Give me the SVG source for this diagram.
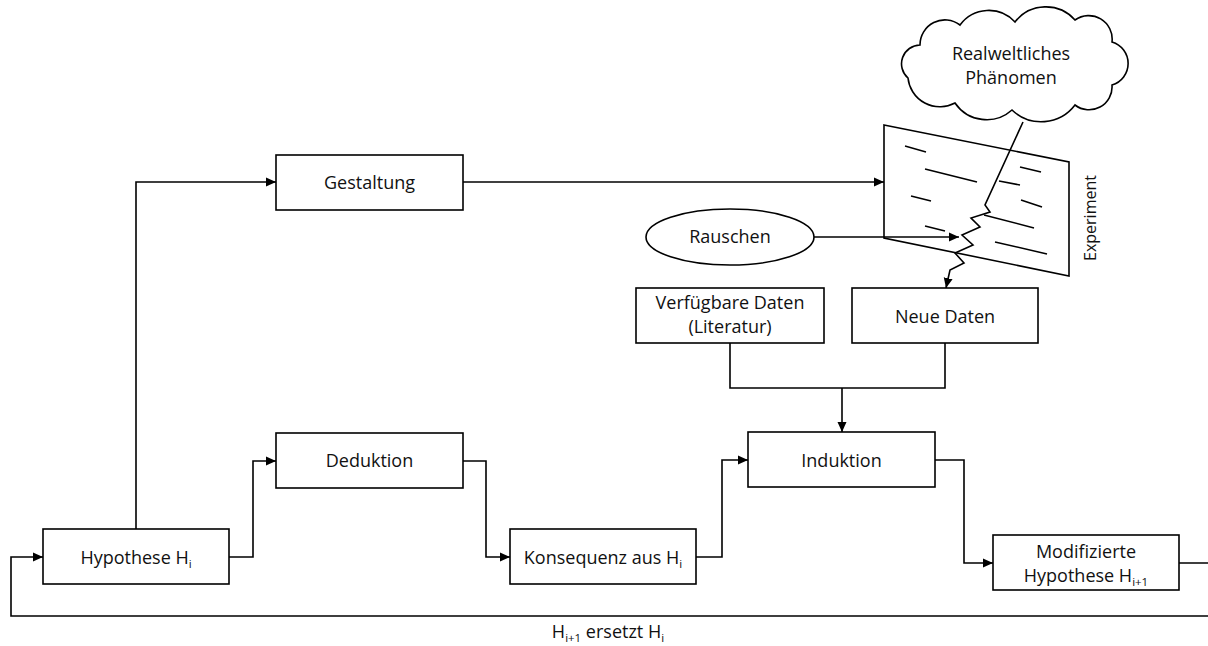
<svg xmlns="http://www.w3.org/2000/svg" width="1208" height="646" viewBox="0 0 1208 646">
<style>
.box{fill:#fff;stroke:#000;stroke-width:1.6}
.ln{fill:none;stroke:#000;stroke-width:1.6}
.t{font-family:"Open Sans","Liberation Sans",sans-serif;font-size:18px;fill:#111;text-anchor:middle}
.s{font-size:11.5px}
.dash{stroke:#000;stroke-width:1.5}
</style>
<defs>
<marker id="ar" viewBox="0 0 10 10" refX="10" refY="5" markerWidth="10" markerHeight="10" markerUnits="userSpaceOnUse" orient="auto">
<path d="M0 0.5 L10 5 L0 9.5 Z" fill="#000"/>
</marker>
</defs>
<rect width="1208" height="646" fill="#fff"/>
<g id="connectors">
<path class="ln" d="M136 529 V182 H276" marker-end="url(#ar)"/>
<path class="ln" d="M229 557 H253 V461 H276" marker-end="url(#ar)"/>
<path class="ln" d="M463 461 H486 V557 H510" marker-end="url(#ar)"/>
<path class="ln" d="M696 557 H722 V460 H748" marker-end="url(#ar)"/>
<path class="ln" d="M935 460 H964 V563 H993" marker-end="url(#ar)"/>
<path class="ln" d="M1179 563 H1220 V616 H11 V557 H43" marker-end="url(#ar)"/>
<path class="ln" d="M463 182 H884" marker-end="url(#ar)"/>
<path class="ln" d="M814 237 H959" marker-end="url(#ar)"/>
<path class="ln" d="M730 343 V388 H945 V343"/>
<path class="ln" d="M842 388 V432" marker-end="url(#ar)"/>
<path class="ln" d="M1023 122 L985 205 L990 212 L971 218 L980 227 L962 235 L973 245 L955 253 L964 263 L950 270 L946 288" marker-end="url(#ar)"/>
</g>
<g id="cloud">
<path class="box" d="M908 78 A18.8 18.8 0 0 1 920 45 A24.9 24.9 0 0 1 960 25 A35.6 35.6 0 0 1 1015 22 A39 39 0 0 1 1075 20 A23.5 23.5 0 0 1 1112 42 A22.4 22.4 0 0 1 1112 85 A23 23 0 0 1 1075 105 A42.4 42.4 0 0 1 1012 110 A38.2 38.2 0 0 1 955 103 A32 32 0 0 1 908 78 Z"/>
<text class="t" x="1011" y="60">Realweltliches</text>
<text class="t" x="1011" y="84">Phänomen</text>
</g>
<g id="experiment">
<polygon class="box" points="884,125 1069,162 1069,276 884,238" style="fill:none"/>
<line class="dash" x1="905" y1="146" x2="926" y2="152"/>
<line class="dash" x1="925" y1="169" x2="977" y2="182"/>
<line class="dash" x1="1020" y1="167" x2="1041" y2="172"/>
<line class="dash" x1="999" y1="181" x2="1020" y2="185"/>
<line class="dash" x1="911" y1="196" x2="931" y2="201"/>
<line class="dash" x1="1021" y1="200" x2="1042" y2="207"/>
<line class="dash" x1="984" y1="215" x2="1034" y2="228"/>
<line class="dash" x1="925" y1="226" x2="945" y2="231"/>
<line class="dash" x1="995" y1="242" x2="1047" y2="254"/>
<text class="t" style="font-size:16px" transform="translate(1096 218) rotate(-90)">Experiment</text>
</g>
<g id="gestaltung">
<rect class="box" x="276" y="155" width="187" height="55"/>
<text class="t" x="369.5" y="189">Gestaltung</text>
</g>
<g id="rauschen">
<ellipse class="box" cx="730" cy="237" rx="84" ry="28"/>
<text class="t" x="730" y="243">Rauschen</text>
</g>
<g id="verfuegbare">
<rect class="box" x="636" y="288" width="188" height="55"/>
<text class="t" x="730" y="309">Verfügbare Daten</text>
<text class="t" x="730" y="333">(Literatur)</text>
</g>
<g id="neue">
<rect class="box" x="852" y="288" width="186" height="55"/>
<text class="t" x="945" y="323">Neue Daten</text>
</g>
<g id="deduktion">
<rect class="box" x="276" y="433" width="187" height="55"/>
<text class="t" x="369.5" y="467">Deduktion</text>
</g>
<g id="induktion">
<rect class="box" x="748" y="432" width="187" height="55"/>
<text class="t" x="841.5" y="467">Induktion</text>
</g>
<g id="hypothese">
<rect class="box" x="43" y="529" width="186" height="55"/>
<text class="t" x="136" y="564">Hypothese H<tspan class="s" dy="4">i</tspan></text>
</g>
<g id="konsequenz">
<rect class="box" x="510" y="529" width="186" height="55"/>
<text class="t" x="603" y="564">Konsequenz aus H<tspan class="s" dy="4">i</tspan></text>
</g>
<g id="modifizierte">
<rect class="box" x="993" y="535" width="186" height="55"/>
<text class="t" x="1086" y="558">Modifizierte</text>
<text class="t" x="1086" y="582">Hypothese H<tspan class="s" dy="4">i+1</tspan></text>
</g>
<g id="loop-label">
<text class="t" x="608" y="638">H<tspan class="s" dy="4">i+1</tspan><tspan dy="-4"> ersetzt H</tspan><tspan class="s" dy="4">i</tspan></text>
</g>
</svg>
